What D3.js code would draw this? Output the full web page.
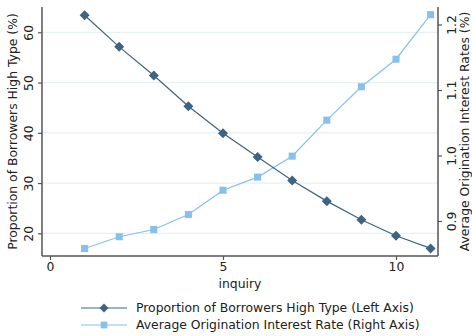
<!DOCTYPE html>
<html>
<head>
<meta charset="utf-8">
<script src="https://cdn.jsdelivr.net/npm/d3@7"></script>
<style>
  html, body { margin: 0; padding: 0; background: #fff; }
  svg { display: block; font-family: "DejaVu Sans", sans-serif; }
</style>
</head>
<body>
<svg id="chart" width="472" height="336"></svg>
<script>
// Number of credit inquiries
const inquiry = [1, 2, 3, 4, 5, 6, 7, 8, 9, 10, 11];
// Share of borrowers that are the high type (%), left axis
const highTypeShare = [63.4, 57.1, 51.4, 45.3, 39.9, 35.2, 30.5, 26.4, 22.7, 19.5, 17.0];
// Average origination interest rate (%), right axis
const avgRate = [0.858, 0.876, 0.887, 0.910, 0.947, 0.967, 0.999, 1.054, 1.105, 1.147, 1.215];

const xTicks = [0, 5, 10];
const leftTicks = [20, 30, 40, 50, 60];
const rightTicks = [0.9, 1.0, 1.1, 1.2];

const seriesNames = [
  "Proportion of Borrowers High Type (Left Axis)",
  "Average Origination Interest Rate (Right Axis)"
];

const darkColor = "#3e6482";
const lightColor = "#85c1ea";
const axisColor = "#555";
const gridColor = "#e8f0f2";

const svg = d3.select("#chart");

// plot region
const plot = { left: 42, right: 438, top: 7, bottom: 256 };

const x = d3.scaleLinear().domain([0, 10]).range([50, 396]);
const yL = d3.scaleLinear().domain([20, 60]).range([233.3, 32.3]);
const yR = d3.scaleLinear().domain([0.9, 1.2]).range([221, 24.5]);

// gridlines at the left axis ticks
svg.append("g").selectAll("line").data(leftTicks).join("line")
  .attr("x1", plot.left).attr("x2", plot.right)
  .attr("y1", d => yL(d)).attr("y2", d => yL(d))
  .attr("stroke", gridColor).attr("stroke-width", 1.2);

// axes
const fontSize = 12.4;

const xAxis = svg.append("g").attr("transform", `translate(0,${plot.bottom})`)
  .call(d3.axisBottom(x).tickValues(xTicks).tickSize(4).tickPadding(2));
const leftAxis = svg.append("g").attr("transform", `translate(${plot.left},0)`)
  .call(d3.axisLeft(yL).tickValues(leftTicks).tickSize(4).tickPadding(0));
const rightAxis = svg.append("g").attr("transform", `translate(${plot.right},0)`)
  .call(d3.axisRight(yR).tickValues(rightTicks).tickFormat(d3.format(".1f")).tickSize(4).tickPadding(0));

[xAxis, leftAxis, rightAxis].forEach(g => {
  g.select(".domain").remove();
  g.selectAll("line").attr("stroke", axisColor).attr("stroke-width", 1.2);
  g.selectAll("text").attr("fill", "#222").style("font-size", fontSize + "px")
    .style("font-family", "DejaVu Sans");
});

// axis lines spanning the plot region
svg.append("line").attr("x1", plot.left).attr("x2", plot.left)
  .attr("y1", plot.top).attr("y2", plot.bottom).attr("stroke", axisColor).attr("stroke-width", 1.5);
svg.append("line").attr("x1", plot.right).attr("x2", plot.right)
  .attr("y1", plot.top).attr("y2", plot.bottom).attr("stroke", axisColor).attr("stroke-width", 1.5);
svg.append("line").attr("x1", plot.left).attr("x2", plot.right)
  .attr("y1", plot.bottom).attr("y2", plot.bottom).attr("stroke", axisColor).attr("stroke-width", 1.5);

// rotated tick labels on the vertical axes
leftAxis.selectAll(".tick text")
  .attr("x", 0).attr("dy", null)
  .attr("text-anchor", "middle")
  .attr("transform", "translate(-9,0) rotate(-90)")
  .attr("dominant-baseline", "auto");
rightAxis.selectAll(".tick text")
  .attr("x", 0).attr("dy", null)
  .attr("text-anchor", "middle")
  .attr("transform", "translate(18,0) rotate(-90)")
  .attr("dominant-baseline", "auto");
xAxis.selectAll(".tick text").attr("dy", "0.71em");

// axis titles
svg.append("text").attr("transform", `translate(17,${(plot.top + plot.bottom) / 2}) rotate(-90)`)
  .attr("text-anchor", "middle").attr("fill", "#222").style("font-size", fontSize + "px")
  .text("Proportion of Borrowers High Type (%)");
svg.append("text").attr("transform", `translate(469,${(plot.top + plot.bottom) / 2}) rotate(-90)`)
  .attr("text-anchor", "middle").attr("fill", "#222").style("font-size", fontSize + "px")
  .text("Average Origination Interest Rates (%)");
svg.append("text").attr("x", (plot.left + plot.right) / 2).attr("y", 288)
  .attr("text-anchor", "middle").attr("fill", "#222").style("font-size", fontSize + "px")
  .text("inquiry");

// diamond marker (square turned 45 degrees)
const diamond = {
  draw(ctx, size) {
    const r = Math.sqrt(size / 2);
    ctx.moveTo(0, -r); ctx.lineTo(r, 0); ctx.lineTo(0, r); ctx.lineTo(-r, 0); ctx.closePath();
  }
};

const darkData = inquiry.map((d, i) => [d, highTypeShare[i]]);
const lightData = inquiry.map((d, i) => [d, avgRate[i]]);

// right-axis series
svg.append("path").datum(lightData)
  .attr("d", d3.line().x(d => x(d[0])).y(d => yR(d[1])))
  .attr("fill", "none").attr("stroke", lightColor).attr("stroke-width", 1.2);
svg.append("g").selectAll("path").data(lightData).join("path")
  .attr("transform", d => `translate(${x(d[0])},${yR(d[1])})`)
  .attr("d", d3.symbol(d3.symbolSquare, 50)())
  .attr("fill", lightColor);

// left-axis series
svg.append("path").datum(darkData)
  .attr("d", d3.line().x(d => x(d[0])).y(d => yL(d[1])))
  .attr("fill", "none").attr("stroke", darkColor).attr("stroke-width", 1.2);
svg.append("g").selectAll("path").data(darkData).join("path")
  .attr("transform", d => `translate(${x(d[0])},${yL(d[1])})`)
  .attr("d", d3.symbol(diamond, 50)())
  .attr("fill", darkColor);

// legend
const legend = svg.append("g");
const rows = [
  { name: seriesNames[0], color: darkColor, sym: diamond, size: 40, y: 308 },
  { name: seriesNames[1], color: lightColor, sym: d3.symbolSquare, size: 45, y: 325 }
];
rows.forEach(r => {
  legend.append("line").attr("x1", 81).attr("x2", 127).attr("y1", r.y).attr("y2", r.y)
    .attr("stroke", r.color).attr("stroke-width", 1.2);
  legend.append("path").attr("transform", `translate(104,${r.y})`)
    .attr("d", d3.symbol(r.sym, r.size)()).attr("fill", r.color);
  legend.append("text").attr("x", 136).attr("y", r.y).attr("dy", "0.35em")
    .attr("fill", "#222").style("font-size", fontSize + "px").text(r.name);
});
</script>
</body>
</html>
